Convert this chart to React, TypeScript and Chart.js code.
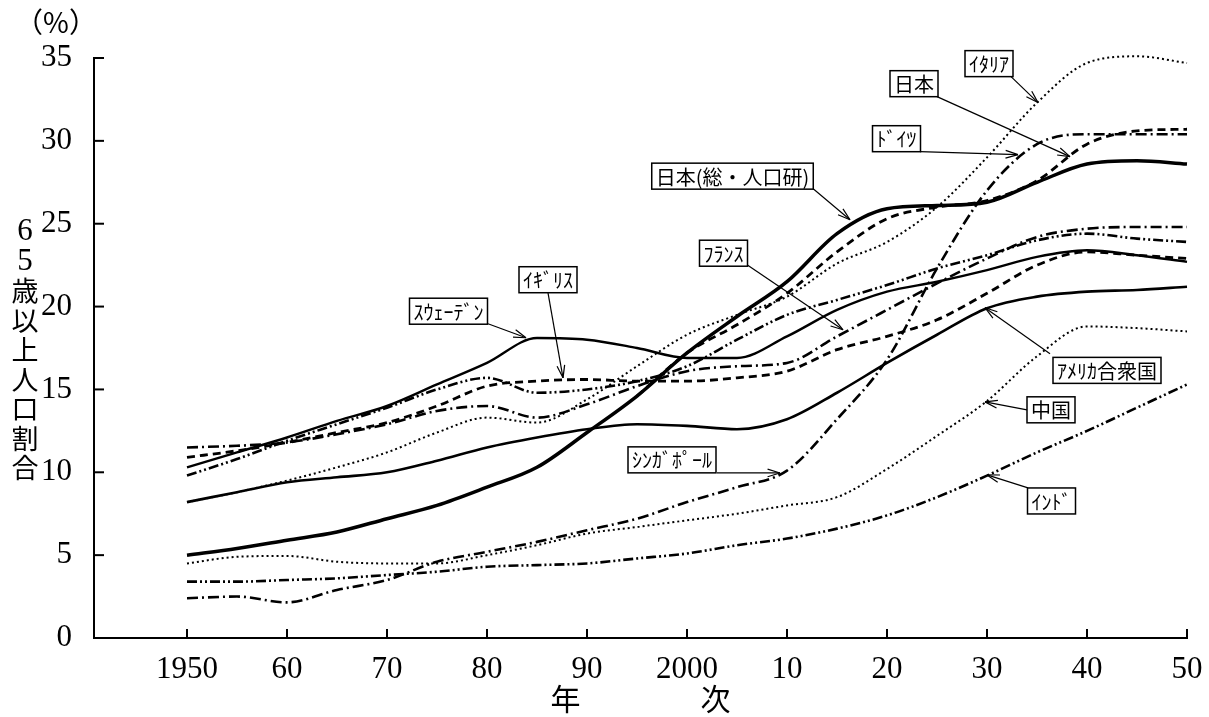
import React, { useEffect, useRef } from "react";
import { Chart, registerables } from "chart.js";

Chart.register(...registerables);

// ---------- data ----------
const years = [1950, 1955, 1960, 1965, 1970, 1975, 1980, 1985, 1990, 1995, 2000, 2005, 2010, 2015, 2020, 2025, 2030, 2035, 2040, 2045, 2050];

const japanNIPSSR = [5.0, 5.4, 5.9, 6.4, 7.2, 8.0, 9.1, 10.3, 12.4, 14.6, 17.2, 19.4, 21.5, 24.4, 25.9, 26.1, 26.3, 27.5, 28.6, 28.8, 28.6];
const japanUN = [null, null, null, null, null, null, null, null, null, 14.6, 17.2, 18.9, 20.8, 23.3, 25.3, 26.0, 26.4, 27.6, 29.8, 30.6, 30.7];
const italy = [8.2, 8.8, 9.5, 10.3, 11.2, 12.4, 13.3, 13.0, 14.4, 16.4, 18.3, 19.5, 20.6, 22.6, 23.9, 26.0, 29.0, 32.3, 34.7, 35.1, 34.7];
const germany = [9.8, 10.8, 11.9, 12.9, 13.9, 15.0, 15.7, 14.8, 15.0, 15.5, 16.4, 18.0, 19.5, 20.4, 21.3, 22.3, 23.1, 24.0, 24.4, 24.1, 23.9];
const france = [11.5, 11.6, 11.8, 12.3, 12.9, 13.7, 14.0, 13.3, 14.1, 15.2, 16.1, 16.4, 16.6, 18.2, 19.8, 21.4, 22.9, 24.2, 24.7, 24.8, 24.8];
const uk = [10.9, 11.3, 11.8, 12.4, 13.0, 14.0, 15.2, 15.5, 15.6, 15.5, 15.5, 15.7, 16.1, 17.4, 18.2, 19.2, 20.8, 22.5, 23.3, 23.1, 22.9];
const sweden = [10.3, 11.2, 12.1, 13.1, 14.0, 15.3, 16.6, 18.1, 18.0, 17.5, 16.9, 16.9, 18.2, 19.8, 20.9, 21.5, 22.2, 23.0, 23.4, 23.1, 22.7];
const usa = [8.2, 8.8, 9.4, 9.7, 10.0, 10.7, 11.5, 12.1, 12.6, 12.9, 12.8, 12.6, 13.2, 14.8, 16.6, 18.3, 19.9, 20.6, 20.9, 21.0, 21.2];
const china = [4.5, 4.9, 4.95, 4.6, 4.5, 4.5, 5.0, 5.6, 6.3, 6.7, 7.1, 7.5, 8.0, 8.5, 10.2, 12.2, 14.3, 17.0, 18.8, 18.7, 18.5];
const singapore = [2.4, 2.5, 2.15, 2.9, 3.5, 4.6, 5.2, 5.8, 6.5, 7.2, 8.2, 9.1, 10.1, 13.2, 16.8, 22.3, 27.0, 29.8, 30.4, 30.4, 30.4];
const india = [3.4, 3.4, 3.5, 3.6, 3.8, 4.0, 4.3, 4.4, 4.5, 4.8, 5.1, 5.6, 6.0, 6.6, 7.4, 8.5, 9.8, 11.2, 12.5, 13.9, 15.3];

const xTickValues = [1950, 1960, 1970, 1980, 1990, 2000, 2010, 2020, 2030, 2040, 2050];
const xTickLabels = ["1950", "60", "70", "80", "90", "2000", "10", "20", "30", "40", "50"];
const yTickValues = [0, 5, 10, 15, 20, 25, 30, 35];
const yTickLabels = ["0", "5", "10", "15", "20", "25", "30", "35"];
const yTitleChars = ["6", "5", "歳", "以", "上", "人", "口", "割", "合"];
const unitLabel = "（%）";
const xTitle = "年\u3000\u3000\u3000\u3000次";

// callouts: label box centre, line start, arrow tip (year, %)
const callouts = [
  { text: "ｲﾀﾘｱ", box: [2030.2, 34.66], from: [2032.3, 33.94], to: [2035.1, 32.31] },
  { text: "日本", box: [2022.7, 33.45], from: [2025.0, 32.67], to: [2038.3, 29.05] },
  { text: "ﾄﾞｲﾂ", box: [2020.95, 30.13], from: [2023.3, 29.35], to: [2033.1, 29.17] },
  { text: "日本(総・人口研)", box: [2004.55, 27.87], from: [2012.5, 27.17], to: [2016.3, 25.24] },
  { text: "ﾌﾗﾝｽ", box: [2003.65, 23.22], from: [2006.0, 22.52], to: [2015.6, 18.6] },
  { text: "ｲｷﾞﾘｽ", box: [1986.1, 21.62], from: [1986.1, 20.83], to: [1987.6, 15.7] },
  { text: "ｽｳｪｰﾃﾞﾝ", box: [1976.15, 19.72], from: [1980.1, 18.96], to: [1983.9, 18.12] },
  { text: "ｼﾝｶﾞﾎﾟｰﾙ", box: [1998.5, 10.75], from: [2003.0, 9.96], to: [2009.3, 9.96] },
  { text: "ｱﾒﾘｶ合衆国", box: [2042.0, 16.15], from: [2036.3, 17.15], to: [2029.8, 19.93] },
  { text: "中国", box: [2036.4, 13.77], from: [2034.0, 13.77], to: [2029.8, 14.25] },
  { text: "ｲﾝﾄﾞ", box: [2036.45, 8.27], from: [2034.1, 9.06], to: [2030.0, 9.84] },
];

// ---------- styles ----------
const SOLID: number[] = [];
const DASHED = [8, 5];
const DOTTED = [2, 3];
const DASHDOT = [11, 4, 2, 4];
const DASHDOTDOT = [10, 3, 2, 3, 2, 3];

function series(label: string, values: (number | null)[], dash: number[], width: number) {
  return {
    label,
    data: years.map((y, i) => ({ x: y, y: values[i] })),
    borderColor: "#000",
    backgroundColor: "#000",
    borderWidth: width,
    borderDash: dash,
    pointRadius: 0,
    fill: false,
    clip: false,
    cubicInterpolationMode: "monotone" as const,
    spanGaps: false,
  };
}

const CJK = '"Noto Sans CJK JP", "Noto Sans", sans-serif';
const SERIF = '"Liberation Serif", "DejaVu Serif", serif';

const decorations = {
  id: "decorations",
  afterDraw(chart: any) {
    const { ctx, chartArea, scales } = chart;
    const xs = scales.x;
    const ys = scales.y;
    ctx.save();
    ctx.strokeStyle = "#000";
    ctx.fillStyle = "#000";
    ctx.lineWidth = 2;
    ctx.setLineDash([]);
    // inward tick marks
    xTickValues.forEach((v) => {
      const px = xs.getPixelForValue(v);
      ctx.beginPath();
      ctx.moveTo(px, chartArea.bottom);
      ctx.lineTo(px, chartArea.bottom - 9);
      ctx.stroke();
    });
    yTickValues.forEach((v) => {
      const py = ys.getPixelForValue(v);
      ctx.beginPath();
      ctx.moveTo(chartArea.left, py);
      ctx.lineTo(chartArea.left + 10, py);
      ctx.stroke();
    });

    // stacked vertical y title
    const step = 29.5;
    const mid = (chartArea.top + chartArea.bottom) / 2 + 2;
    const start = mid - ((yTitleChars.length - 1) * step) / 2;
    ctx.textAlign = "center";
    ctx.textBaseline = "middle";
    yTitleChars.forEach((c, i) => {
      const isDigit = /[0-9]/.test(c);
      ctx.font = isDigit ? `31px ${SERIF}` : `27px ${CJK}`;
      ctx.fillText(c, 25, start + i * step);
    });

    // unit
    ctx.font = `28px ${CJK}`;
    ctx.fillText(unitLabel, 56, 22);

    // callouts
    ctx.font = `20px ${CJK}`;
    callouts.forEach((c) => {
      const bx = xs.getPixelForValue(c.box[0]);
      const by = ys.getPixelForValue(c.box[1]);
      const fx = xs.getPixelForValue(c.from[0]);
      const fy = ys.getPixelForValue(c.from[1]);
      const tx = xs.getPixelForValue(c.to[0]);
      const ty = ys.getPixelForValue(c.to[1]);
      // leader line
      ctx.lineWidth = 1.2;
      ctx.beginPath();
      ctx.moveTo(fx, fy);
      ctx.lineTo(tx, ty);
      ctx.stroke();
      // open arrow head
      const ang = Math.atan2(ty - fy, tx - fx);
      const L = 13;
      [0.3, -0.3].forEach((d) => {
        ctx.beginPath();
        ctx.moveTo(tx, ty);
        ctx.lineTo(tx - L * Math.cos(ang + d), ty - L * Math.sin(ang + d));
        ctx.stroke();
      });
      // box
      const w = ctx.measureText(c.text).width + 8;
      const h = 26;
      ctx.fillStyle = "#fff";
      ctx.fillRect(bx - w / 2, by - h / 2, w, h);
      ctx.lineWidth = 1.5;
      ctx.strokeRect(bx - w / 2, by - h / 2, w, h);
      ctx.fillStyle = "#000";
      ctx.textAlign = "center";
      ctx.textBaseline = "middle";
      ctx.fillText(c.text, bx, by + 1);
    });
    ctx.restore();
  },
};

export default function App() {
  const ref = useRef<HTMLCanvasElement | null>(null);
  useEffect(() => {
    if (!ref.current) return;
    const chart = new Chart(ref.current, {
      type: "line",
      data: {
        datasets: [
          series("日本(総・人口研)", japanNIPSSR, SOLID, 3.5),
          series("日本", japanUN, DASHED, 2.8),
          series("イタリア", italy, DOTTED, 2),
          series("ドイツ", germany, DASHDOTDOT, 2.6),
          series("フランス", france, DASHDOT, 2.6),
          series("イギリス", uk, DASHED, 2.8),
          series("スウェーデン", sweden, SOLID, 2.4),
          series("アメリカ合衆国", usa, SOLID, 2.6),
          series("中国", china, DOTTED, 2),
          series("シンガポール", singapore, DASHDOT, 2.6),
          series("インド", india, DASHDOTDOT, 2.6),
        ],
      },
      options: {
        animation: false,
        responsive: false,
        devicePixelRatio: 1,
        layout: { padding: { top: 58, right: 22, left: 0, bottom: 0 } },
        plugins: { legend: { display: false }, tooltip: { enabled: false } },
        scales: {
          x: {
            type: "linear",
            min: 1940.7,
            max: 2050,
            afterBuildTicks: (s: any) => {
              s.ticks = xTickValues.map((v) => ({ value: v }));
            },
            afterFit: (s: any) => {
              s.height = 79;
              s.paddingLeft = 0;
              s.paddingRight = 0;
            },
            grid: { display: false, drawTicks: false },
            border: { display: true, color: "#000", width: 2 },
            ticks: {
              autoSkip: false,
              maxRotation: 0,
              padding: 13,
              color: "#000",
              font: { family: SERIF, size: 31 },
              callback: (v: any) => {
                const i = xTickValues.indexOf(Number(v));
                return i >= 0 ? xTickLabels[i] : "";
              },
            },
            title: {
              display: true,
              text: xTitle,
              color: "#000",
              font: { family: CJK, size: 30 },
              padding: { top: 0, bottom: 0 },
            },
          },
          y: {
            type: "linear",
            min: 0,
            max: 35,
            afterBuildTicks: (s: any) => {
              s.ticks = yTickValues.map((v) => ({ value: v }));
            },
            afterFit: (s: any) => {
              s.width = 94;
              s.paddingTop = 0;
              s.paddingBottom = 0;
            },
            grid: { display: false, drawTicks: false },
            border: { display: true, color: "#000", width: 2 },
            ticks: {
              padding: 22,
              color: "#000",
              font: { family: SERIF, size: 31 },
              callback: (v: any) => {
                const i = yTickValues.indexOf(Number(v));
                return i >= 0 ? yTickLabels[i] : "";
              },
            },
          },
        },
      },
      plugins: [decorations],
    } as any);
    return () => chart.destroy();
  }, []);

  return (
    <div style={{ position: "absolute", left: 0, top: 0, width: 1209, height: 717, background: "#fff" }}>
      <canvas ref={ref} width={1209} height={717} />
    </div>
  );
}
